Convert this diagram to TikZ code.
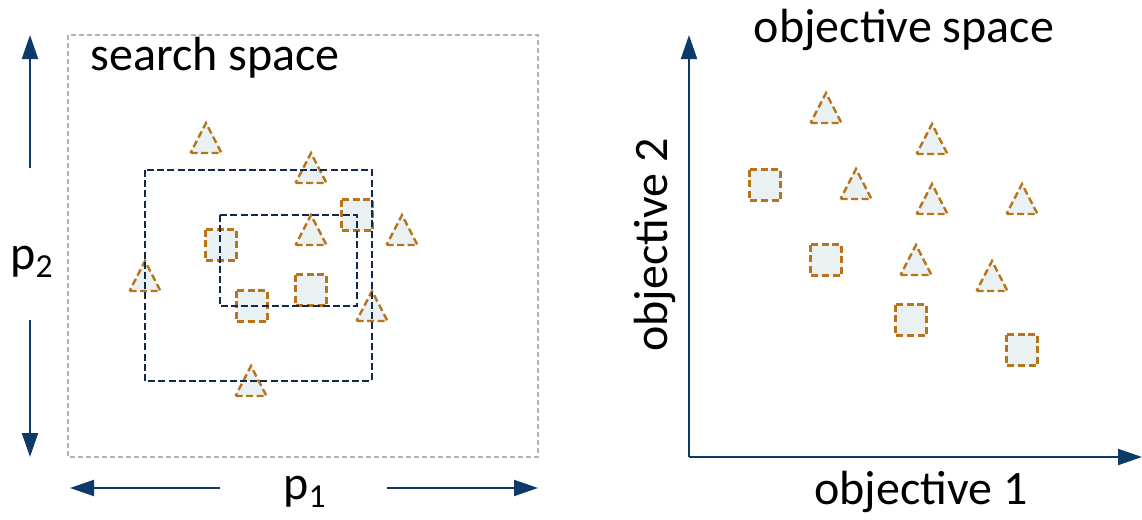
\documentclass[tikz,border=0pt]{standalone}
\usepackage{fontspec}
\setmainfont{Carlito}
\usetikzlibrary{arrows.meta}
\definecolor{markline}{HTML}{B8741A}
\definecolor{markfill}{HTML}{EAF1F2}
\definecolor{boxnavy}{HTML}{13294B}
\definecolor{axisblue}{HTML}{0E3A6A}
\definecolor{spacegray}{HTML}{B4B4B4}
\tikzset{
  mk/.style={draw=markline, fill=markfill, line width=1.2pt, dash pattern=on 3.5pt off 1.8pt},
  tri/.pic={\path[mk] (-15.5,15) -- (15.5,15) -- (0,-15) -- cycle;},
  sq/.pic={\path[mk] (-15.5,-15.5) rectangle (15.5,15.5);},
  region/.style={draw=boxnavy, line width=1.1pt, dash pattern=on 3.5pt off 1.6pt},
  spacebox/.style={draw=spacegray, line width=0.7pt, dash pattern=on 2.5pt off 1.5pt},
  axis/.style={draw=axisblue, line width=1pt, -{Triangle[length=12pt,width=8pt]}},
  lbl/.style={font=\fontsize{24}{28}\selectfont, inner sep=0pt}
}
\begin{document}
\begin{tikzpicture}[x=0.5pt,y=-0.5pt]
\useasboundingbox (0,0) rectangle (1142,520);

% ---- search space ----
\path[spacebox] (68,35) rectangle (538,457);
\node[lbl, anchor=base west] (sslabel) at (90,70) {search space};

% sampled configurations
\pic at (206,138) {tri};
\pic at (311,168) {tri};
\pic at (311,230) {tri};
\pic at (402,230) {tri};
\pic at (145,276) {tri};
\pic at (372,306) {tri};
\pic at (251,381) {tri};
\pic at (357,215) {sq};
\pic at (221,245) {sq};
\pic at (252,306) {sq};
\pic at (311,290) {sq};

% nested search regions
\path[region] (145,170) rectangle (372,381);
\path[region] (220,215) rectangle (357,306);

% parameter axes
\node[lbl] (p2) at (32,262) {p\textsubscript{2}};
\coordinate (p2top) at (30,35);
\coordinate (p2bot) at (30,457);
\draw[axis] (30,168) -- (p2top);
\draw[axis] (30,320) -- (p2bot);
\node[lbl] (p1) at (305,492) {p\textsubscript{1}};
\coordinate (p1left) at (70,488);
\coordinate (p1right) at (538,488);
\draw[axis] (220,488) -- (p1left);
\draw[axis] (387,488) -- (p1right);

% ---- objective space ----
\coordinate (origin) at (689,457);
\coordinate (ytip) at (689,35);
\coordinate (xtip) at (1142,457);
\draw[axis] (origin) -- (ytip);
\draw[axis] (origin) -- (xtip);
\node[lbl, anchor=base] (oslabel) at (904,42) {objective space};
\node[lbl, rotate=90] (o2) at (655,245) {objective 2};
\node[lbl] (o1) at (921,492) {objective 1};

\pic at (826,108) {tri};
\pic at (932,139) {tri};
\pic at (856,184) {tri};
\pic at (932,199) {tri};
\pic at (1022,199) {tri};
\pic at (916,260) {tri};
\pic at (992,276) {tri};
\pic at (765,185) {sq};
\pic at (826,260) {sq};
\pic at (911,320) {sq};
\pic at (1022,350) {sq};
\end{tikzpicture}
\end{document}
